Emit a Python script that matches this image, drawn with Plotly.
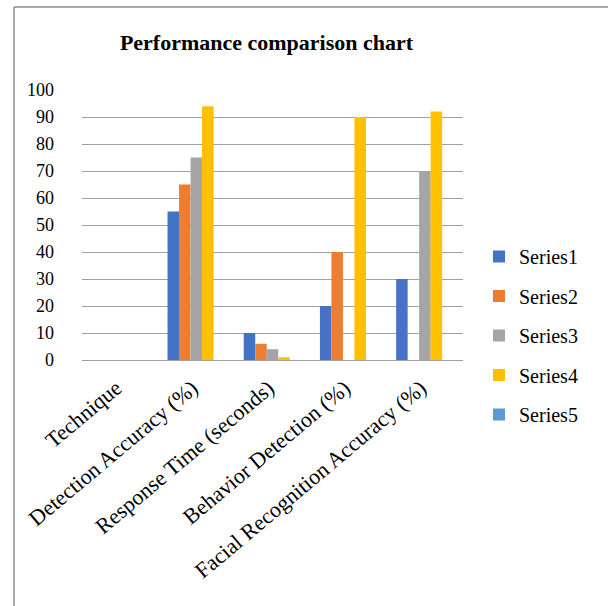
import plotly.graph_objects as go

categories = ["Technique", "Detection Accuracy (%)", "Response Time (seconds)",
              "Behavior Detection (%)", "Facial Recognition Accuracy (%)"]
series_names = ["Series1", "Series2", "Series3", "Series4", "Series5"]
series1 = [None, 55, 10, 20, 30]
series2 = [None, 65, 6, 40, None]
series3 = [None, 75, 4, None, 70]
series4 = [None, 94, 1, 90, 92]
series5 = [None, None, None, None, None]
colors = ["#4472C4", "#ED7D31", "#A5A5A5", "#FFC000", "#5B9BD5"]

FONT = "Liberation Serif, Times New Roman, serif"

fig = go.Figure()
for name, vals, col in zip(series_names, [series1, series2, series3, series4, series5], colors):
    fig.add_trace(go.Bar(x=categories, y=vals, name=name, marker_color=col,
                         marker_line_width=0, legendgroup=name))

W, H = 608, 606
L, R, T, B = 82, 145, 90, 246
pw, ph = W - L - R, H - T - B

def px(x):
    return (x - L) / pw

def py(y):
    return (H - B - y) / ph

fig.update_layout(
    width=W, height=H,
    margin=dict(l=L, r=R, t=T, b=B, autoexpand=False),
    paper_bgcolor="white", plot_bgcolor="white",
    barmode="group", bargap=0.245, bargroupgap=0,
    title=dict(text="<b>Performance comparison chart</b>", x=px(266.5), xref="paper",
               xanchor="center", y=1 - 42 / H, yanchor="middle",
               font=dict(family=FONT, size=22, color="black")),
    font=dict(family=FONT, size=17, color="black"),
    legend=dict(x=px(479), xanchor="left", y=py(237), yanchor="top",
                font=dict(family=FONT, size=20, color="black"),
                tracegroupgap=10.5, itemwidth=30, bgcolor="rgba(0,0,0,0)"),
    xaxis=dict(tickangle=-40, showgrid=False, showline=False, ticks="",
               tickfont=dict(family=FONT, size=22, color="black"),
               ticklabelstandoff=10, ticklabelshift=-4),
    yaxis=dict(range=[0, 100], dtick=10, showgrid=True, gridcolor="#A0A0A0",
               gridwidth=1.2, zeroline=True, zerolinecolor="#A0A0A0", zerolinewidth=1.2,
               showline=False, ticks="", tickfont=dict(family=FONT, size=18, color="black"),
               ticklabelstandoff=27),
    shapes=[
        dict(type="line", xref="paper", yref="paper", x0=px(14), x1=px(14), y0=py(7), y1=py(610),
             line=dict(color="#8C8C8C", width=1.5)),
        dict(type="line", xref="paper", yref="paper", x0=px(14), x1=px(610), y0=py(7), y1=py(7),
             line=dict(color="#8C8C8C", width=1.5)),
    ],
)

fig.write_html("out.html", post_script="document.body.style.margin='0';",
               config={"displayModeBar": False})
